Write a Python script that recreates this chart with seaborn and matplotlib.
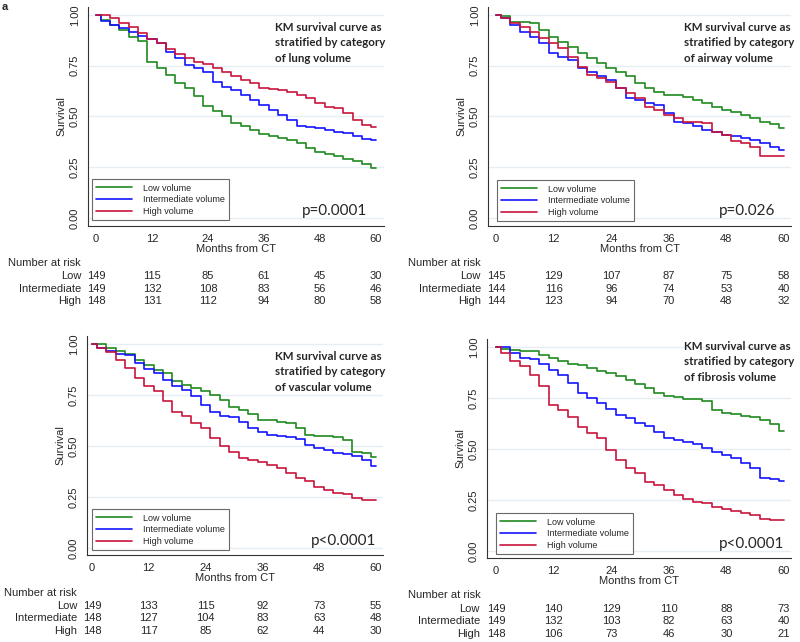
import numpy as np
import pandas as pd
import seaborn as sns
import matplotlib.pyplot as plt

months = list(range(0, 61, 2))
risk_months = [0, 12, 24, 36, 48, 60]
groups = ['Low volume', 'Intermediate volume', 'High volume']
risk_rows = ['Low', 'Intermediate', 'High']

# lung volume
lung_low = [1.00, 0.975, 0.95, 0.926, 0.893, 0.87, 0.77, 0.738, 0.705, 0.664, 0.64, 0.60, 0.55, 0.525, 0.50, 0.467,
            0.454, 0.434, 0.415, 0.405, 0.393, 0.385, 0.369, 0.344, 0.323, 0.316, 0.307, 0.29, 0.279, 0.267, 0.246]
lung_int = [1.00, 0.972, 0.95, 0.934, 0.918, 0.897, 0.88, 0.86, 0.82, 0.787, 0.754, 0.738, 0.72, 0.672, 0.644, 0.631,
            0.607, 0.582, 0.557, 0.533, 0.508, 0.484, 0.454, 0.446, 0.443, 0.434, 0.423, 0.418, 0.405, 0.389, 0.385]
lung_high = [1.00, 1.00, 0.984, 0.959, 0.943, 0.913, 0.88, 0.86, 0.831, 0.807, 0.787, 0.77, 0.757, 0.738, 0.721, 0.70,
             0.68, 0.664, 0.639, 0.634, 0.631, 0.623, 0.607, 0.59, 0.566, 0.549, 0.541, 0.516, 0.484, 0.459, 0.448]
lung_risk = [[149, 115, 85, 61, 45, 30], [149, 132, 108, 83, 56, 46], [148, 131, 112, 94, 80, 58]]

# airway volume
airway_low = [1.00, 0.995, 0.967, 0.967, 0.959, 0.926, 0.893, 0.869, 0.844, 0.811, 0.787, 0.762, 0.738, 0.721, 0.70,
              0.664, 0.639, 0.623, 0.607, 0.607, 0.598, 0.582, 0.566, 0.546, 0.533, 0.52, 0.508, 0.492, 0.475, 0.464, 0.443]
airway_int = [1.00, 0.984, 0.951, 0.918, 0.89, 0.861, 0.811, 0.792, 0.779, 0.738, 0.721, 0.70, 0.68, 0.639, 0.59,
              0.582, 0.566, 0.557, 0.516, 0.475, 0.467, 0.451, 0.434, 0.426, 0.41, 0.402, 0.393, 0.385, 0.369, 0.352, 0.333]
airway_high = [1.00, 0.984, 0.959, 0.943, 0.918, 0.885, 0.861, 0.836, 0.795, 0.746, 0.705, 0.689, 0.672, 0.639, 0.615,
               0.59, 0.549, 0.533, 0.508, 0.492, 0.475, 0.472, 0.47, 0.426, 0.41, 0.377, 0.369, 0.352, 0.303, 0.303, 0.303]
airway_risk = [[145, 129, 107, 87, 75, 58], [144, 116, 96, 74, 53, 40], [144, 123, 94, 70, 48, 32]]

# vascular volume
vascular_low = [1.00, 1.00, 0.98, 0.964, 0.953, 0.923, 0.899, 0.874, 0.858, 0.817, 0.80, 0.784, 0.772, 0.751, 0.727,
                0.691, 0.678, 0.658, 0.628, 0.628, 0.62, 0.612, 0.587, 0.555, 0.55, 0.55, 0.543, 0.53, 0.473, 0.465, 0.445]
vascular_int = [1.00, 0.98, 0.964, 0.953, 0.948, 0.907, 0.877, 0.858, 0.825, 0.792, 0.776, 0.743, 0.702, 0.669, 0.645,
                0.64, 0.62, 0.587, 0.571, 0.555, 0.547, 0.543, 0.534, 0.506, 0.49, 0.481, 0.468, 0.462, 0.452, 0.432, 0.40]
vascular_high = [1.00, 0.98, 0.959, 0.923, 0.882, 0.833, 0.795, 0.768, 0.719, 0.669, 0.645, 0.615, 0.587, 0.538, 0.501,
                 0.473, 0.44, 0.432, 0.424, 0.408, 0.391, 0.37, 0.342, 0.326, 0.301, 0.285, 0.272, 0.266, 0.244, 0.236, 0.236]
vascular_risk = [[149, 133, 115, 92, 73, 55], [148, 127, 104, 83, 63, 48], [148, 117, 85, 62, 44, 30]]

# fibrosis volume
fibrosis_low = [1.00, 0.992, 0.984, 0.979, 0.979, 0.959, 0.946, 0.93, 0.916, 0.913, 0.897, 0.88, 0.872, 0.859, 0.839,
                0.82, 0.798, 0.774, 0.761, 0.754, 0.744, 0.744, 0.733, 0.692, 0.675, 0.67, 0.664, 0.656, 0.643, 0.623, 0.59]
fibrosis_int = [1.00, 0.998, 0.97, 0.946, 0.941, 0.918, 0.889, 0.864, 0.823, 0.774, 0.749, 0.725, 0.695, 0.667, 0.651,
                0.626, 0.613, 0.585, 0.552, 0.544, 0.536, 0.523, 0.503, 0.487, 0.47, 0.454, 0.433, 0.405, 0.356, 0.351, 0.344]
fibrosis_high = [1.00, 0.97, 0.93, 0.905, 0.864, 0.807, 0.716, 0.692, 0.659, 0.61, 0.577, 0.552, 0.495, 0.446, 0.405,
                 0.38, 0.339, 0.323, 0.298, 0.274, 0.257, 0.241, 0.233, 0.216, 0.205, 0.197, 0.187, 0.175, 0.159, 0.151, 0.151]
fibrosis_risk = [[149, 140, 129, 110, 88, 73], [149, 132, 103, 82, 63, 40], [148, 106, 73, 46, 30, 21]]

colors = ['#1f8a1f', '#1414ff', '#c8143c']

sns.set_style('white')
plt.rcParams['font.family'] = ['Liberation Sans', 'DejaVu Sans']

W, H = 800, 642
fig = plt.figure(figsize=(W / 100, H / 100), dpi=100)


def fx(px):
    return px / W


def fy(py):
    return 1 - py / H


# pixel layout of each panel: axes left/right, x of month 0 and 60, y of 1.00 and 0.00, bottom spine
panels = [
    dict(curves=[lung_low, lung_int, lung_high], risk=lung_risk, name='lung', p='p=0.0001',
         L=88, R=384, x0=96, x60=376, y1=15, y0=218, bot=226,
         title_xy=(275, 43), p_xy=(302, 211), leg=(92, 220), nar_x=8, row_x=81, nar_y=[263, 276, 289, 301]),
    dict(curves=[airway_low, airway_int, airway_high], risk=airway_risk, name='airway', p='p=0.026',
         L=488, R=791, x0=496, x60=784, y1=15, y0=218, bot=226,
         title_xy=(684, 43), p_xy=(719, 211), leg=(497, 221), nar_x=408, row_x=481, nar_y=[263, 276, 289, 301]),
    dict(curves=[vascular_low, vascular_int, vascular_high], risk=vascular_risk, name='vascular', p='p<0.0001',
         L=87, R=383, x0=92, x60=376, y1=344, y0=548, bot=555,
         title_xy=(275, 372), p_xy=(311, 541), leg=(92, 550), nar_x=4, row_x=77, nar_y=[593, 606, 618, 631]),
    dict(curves=[fibrosis_low, fibrosis_int, fibrosis_high], risk=fibrosis_risk, name='fibrosis', p='p<0.0001',
         L=487, R=791, x0=496, x60=784, y1=347, y0=551, bot=558,
         title_xy=(684, 362), p_xy=(719, 544), leg=(496, 554), nar_x=408, row_x=480, nar_y=[595, 609, 621, 634]),
]

for pn in panels:
    top = pn['y1'] - 8
    ax = fig.add_axes([fx(pn['L']), fy(pn['bot']), (pn['R'] - pn['L']) / W, (pn['bot'] - top) / H])
    s = (pn['x60'] - pn['x0']) / 60
    u = pn['y0'] - pn['y1']

    for yv in [0, 0.25, 0.5, 0.75, 1.0]:
        ax.axhline(yv, color='#e6edf3', lw=1.0, zorder=0)

    for vals, grp, c in zip(pn['curves'], groups, colors):
        df = pd.DataFrame({'month': months, 'surv': vals})
        sns.lineplot(data=df, x='month', y='surv', drawstyle='steps-mid', color=c, lw=1.2,
                     label=grp, ax=ax, estimator=None, sort=False)

    ax.set_xlim((pn['L'] - pn['x0']) / s, (pn['R'] - pn['x0']) / s)
    ax.set_ylim((pn['y0'] - pn['bot']) / u, (pn['y0'] - top) / u)
    ax.set_xticks(risk_months)
    ax.set_yticks([0, 0.25, 0.5, 0.75, 1.0])
    ax.set_yticklabels(['0.00', '0.25', '0.50', '0.75', '1.00'], rotation=90, va='center')
    ax.tick_params(axis='both', labelsize=8, length=4, width=0.8, color='#333333', pad=2, direction='out')
    for sp in ['top', 'right']:
        ax.spines[sp].set_visible(False)
    for sp in ['left', 'bottom']:
        ax.spines[sp].set_color('#333333')
        ax.spines[sp].set_linewidth(0.8)
    ax.set_xlabel('Months from CT', fontsize=8, labelpad=0)
    ax.set_ylabel('Survival', fontsize=8, labelpad=2)

    # legend, lower left of the axes
    lx = (pn['leg'][0] - pn['L']) / (pn['R'] - pn['L'])
    ly = (pn['bot'] - pn['leg'][1]) / (pn['bot'] - top)
    leg = ax.legend(loc='lower left', bbox_to_anchor=(lx, ly), borderaxespad=0, fontsize=6.5,
                    frameon=True, fancybox=False, edgecolor='#444444', handlelength=4.0,
                    labelspacing=0.3, borderpad=0.45, handletextpad=1.2)
    leg.get_frame().set_linewidth(0.8)

    fig.text(fx(pn['title_xy'][0]), fy(pn['title_xy'][1]),
             'KM survival curve as\nstratified by category\nof %s volume' % pn['name'],
             family=['Lato', 'DejaVu Sans'], weight='bold', fontsize=8.3, ha='left', va='center',
             linespacing=1.45)
    fig.text(fx(pn['p_xy'][0]), fy(pn['p_xy'][1]), pn['p'], family=['Lato', 'DejaVu Sans'],
             fontsize=11, ha='left', va='center')

    # number at risk table
    fig.text(fx(pn['nar_x']), fy(pn['nar_y'][0]), 'Number at risk', fontsize=8, ha='left', va='center')
    for row, counts, yp in zip(risk_rows, pn['risk'], pn['nar_y'][1:]):
        fig.text(fx(pn['row_x']), fy(yp), row, fontsize=8, ha='right', va='center')
        for t, n in zip(risk_months, counts):
            ax.annotate(str(n), xy=(t, fy(yp)), xycoords=('data', 'figure fraction'),
                        ha='center', va='center', fontsize=8, annotation_clip=False)

fig.text(fx(2), fy(7), 'a', fontsize=8, weight='bold', ha='left', va='center')

fig.savefig('out.png', dpi=100)
